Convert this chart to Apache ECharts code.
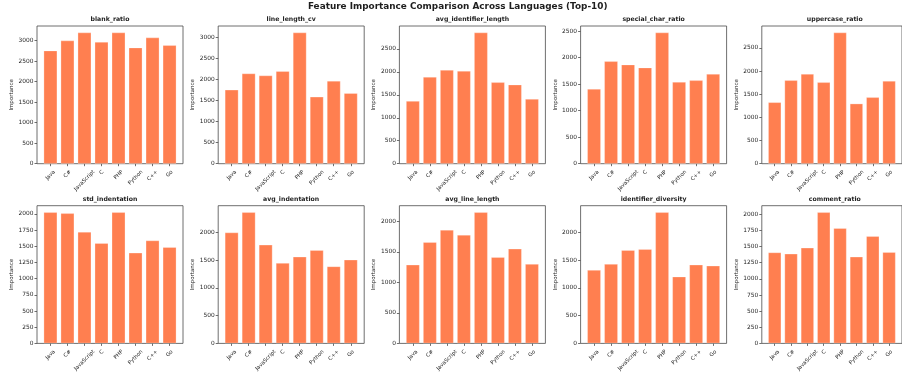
<!DOCTYPE html>
<html>
<head>
<meta charset="utf-8">
<script src="https://cdn.jsdelivr.net/npm/echarts@6/dist/echarts.min.js"></script>
<style>
  html, body { margin: 0; padding: 0; background: #ffffff; }
  #chart { width: 902px; height: 372px; }
</style>
</head>
<body>
<div id="chart"></div>
<script>
// Languages on the x axis of every panel
const languages = ['Java', 'C#', 'JavaScript', 'C', 'PHP', 'Python', 'C++', 'Go'];

// Panel titles (feature names), row by row
const featureNames = [
  'blank_ratio', 'line_length_cv', 'avg_identifier_length', 'special_char_ratio', 'uppercase_ratio',
  'std_indentation', 'avg_indentation', 'avg_line_length', 'identifier_diversity', 'comment_ratio'
];

// Importance per language, one array per feature
const blankRatio          = [2756, 3000, 3195, 2967, 3195, 2829, 3073, 2886];
const lineLengthCv        = [1758, 2146, 2098, 2201, 3119, 1591, 1971, 1678];
const avgIdentifierLength = [1366, 1890, 2042, 2020, 2856, 1773, 1722, 1410];
const specialCharRatio    = [1411, 1933, 1870, 1814, 2475, 1543, 1574, 1694];
const uppercaseRatio      = [1326, 1801, 1938, 1758, 2831, 1297, 1434, 1787];
const stdIndentation      = [2026, 2010, 1723, 1549, 2026, 1400, 1590, 1487];
const avgIndentation      = [2000, 2365, 1778, 1449, 1563, 1683, 1389, 1509];
const avgLineLength       = [1288, 1658, 1859, 1777, 2147, 1413, 1549, 1299];
const identifierDiversity = [1323, 1431, 1683, 1701, 2365, 1204, 1419, 1401];
const commentRatio        = [1409, 1388, 1481, 2031, 1784, 1342, 1661, 1414];

const featureValues = [
  blankRatio, lineLengthCv, avgIdentifierLength, specialCharRatio, uppercaseRatio,
  stdIndentation, avgIndentation, avgLineLength, identifierDiversity, commentRatio
];

// y tick spacing for each panel
const yTickSteps = [500, 500, 500, 500, 500, 250, 500, 500, 500, 250];

// ---- layout ----
const FONT = 'DejaVu Sans';
const TEXT = '#1e1e1e';
const SPINE = '#4a4a4a';
const colLeft = [37, 218.2, 399.4, 580.6, 761.8];
const rowTop = [26, 205.7];
const panelW = 146;
const panelH = 137.7;
const X_MIN = -0.79, X_MAX = 7.79;   // bar extent plus 5% margin each side
const X_LABEL_SIZE = 5.3;
const X_LABEL_PAD = 5.4;             // gap between axis line and top of a rotated label

const chart = echarts.init(document.getElementById('chart'), null, { renderer: 'canvas' });

const grids = [], xAxes = [], yAxes = [], series = [];
const titles = [{
  text: 'Feature Importance Comparison Across Languages (Top-10)',
  left: 457.7, top: 2, textAlign: 'center', padding: 0,
  textStyle: { fontFamily: FONT, fontSize: 8.9, fontWeight: 'bold', color: TEXT }
}];

const xPositions = languages.map((_, i) => i);

featureValues.forEach((vals, k) => {
  const r = Math.floor(k / 5), c = k % 5;
  const left = colLeft[c], top = rowTop[r];
  grids.push({
    left: left, top: top, width: panelW, height: panelH,
    show: true, borderColor: SPINE, borderWidth: 0.8, backgroundColor: 'transparent',
    containLabel: false
  });

  const yMax = Math.max(...vals) * 1.05;
  const step = yTickSteps[k];
  const yTicks = [];
  for (let t = 0; t <= yMax; t += step) yTicks.push(t);

  xAxes.push({
    type: 'value', gridIndex: k, min: X_MIN, max: X_MAX,
    axisLine: { show: false, onZero: false },
    splitLine: { show: false },
    axisTick: { show: true, length: 2.5, customValues: xPositions, lineStyle: { color: SPINE, width: 0.8 } },
    axisLabel: { show: false }
  });

  yAxes.push({
    type: 'value', gridIndex: k, min: 0, max: yMax,
    axisLine: { show: false, onZero: false },
    splitLine: { show: false },
    axisTick: { show: true, length: 2.5, customValues: yTicks, lineStyle: { color: SPINE, width: 0.8 } },
    axisLabel: {
      customValues: yTicks,
      formatter: v => String(v),
      margin: 3.5, fontFamily: FONT, fontSize: 5.9, color: TEXT
    },
    name: 'Importance', nameLocation: 'middle', nameRotate: 90, nameGap: 22,
    nameTextStyle: { fontFamily: FONT, fontSize: 5.5, color: TEXT }
  });

  series.push({
    type: 'bar', xAxisIndex: k, yAxisIndex: k,
    data: vals.map((v, i) => [xPositions[i], v]),
    barWidth: '80%',
    itemStyle: { color: '#FF7F50', borderColor: 'rgba(255,255,255,0.45)', borderWidth: 0.6 },
    silent: true
  });

  titles.push({
    text: featureNames[k],
    left: left + panelW / 2, top: top - 9.2, textAlign: 'center', padding: 0,
    textStyle: { fontFamily: FONT, fontSize: 6.2, fontWeight: 'bold', color: TEXT }
  });
});

chart.setOption({
  animation: false,
  backgroundColor: '#ffffff',
  title: titles,
  grid: grids,
  xAxis: xAxes,
  yAxis: yAxes,
  series: series
});

// Category labels rotated 45° and centred under their tick, the whole
// rotated box hanging just below the axis line.
const measure = document.createElement('canvas').getContext('2d');
measure.font = X_LABEL_SIZE + 'px "' + FONT + '"';
const labelTexts = [];
featureValues.forEach((_, k) => {
  languages.forEach((name, i) => {
    const p = chart.convertToPixel({ gridIndex: k }, [xPositions[i], 0]);
    const len = measure.measureText(name).width;
    const halfBox = 0.7071 * (len + 1.1 * X_LABEL_SIZE) / 2;
    labelTexts.push({
      type: 'text', silent: true,
      x: p[0], y: p[1] + X_LABEL_PAD + halfBox,
      rotation: Math.PI / 4,
      style: {
        text: name, fontFamily: FONT, fontSize: X_LABEL_SIZE, fill: TEXT,
        align: 'center', verticalAlign: 'middle'
      }
    });
  });
});
chart.setOption({ graphic: labelTexts });
</script>
</body>
</html>
